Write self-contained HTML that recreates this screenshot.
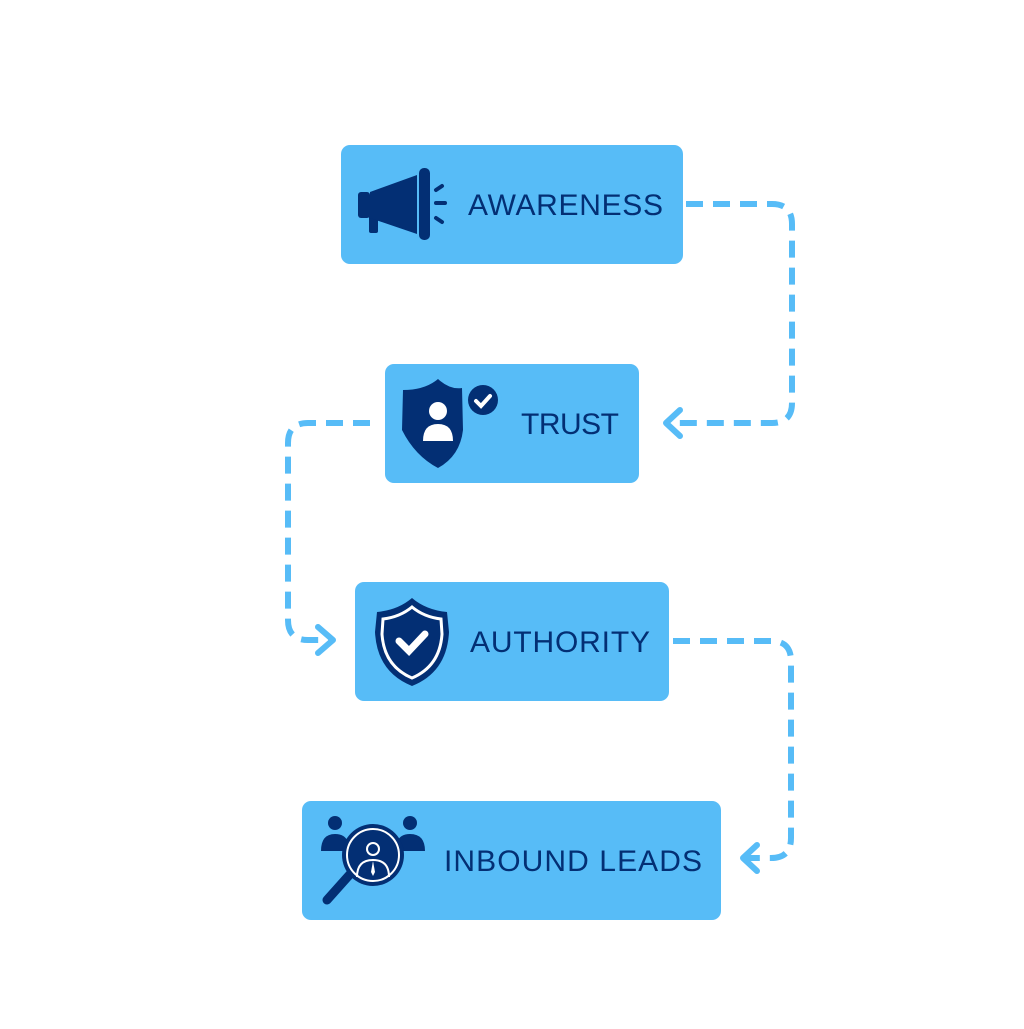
<!DOCTYPE html>
<html><head><style>
body{margin:0;background:#fff;width:1024px;height:1024px;overflow:hidden;font-family:"Liberation Sans",sans-serif;}
</style></head><body>
<svg width="1024" height="1024" viewBox="0 0 1024 1024" xmlns="http://www.w3.org/2000/svg">
<g fill="#57bcf7">
<rect x="341" y="145" width="342" height="119" rx="9"/>
<rect x="385" y="364" width="254" height="119" rx="9"/>
<rect x="355" y="582" width="314" height="119" rx="9"/>
<rect x="302" y="801" width="419" height="119" rx="9"/>
</g>
<g fill="none" stroke="#57bcf7" stroke-width="6" stroke-dasharray="17,10">
<path d="M686 204 H772 Q792 204 792 224 V403 Q792 423 772 423 H670"/>
<path d="M370 423 H308 Q288 423 288 443 V620 Q288 640 308 640 H332"/>
<path d="M673 641 H771 Q791 641 791 661 V838 Q791 858 771 858 H747"/>
</g>
<g fill="none" stroke="#57bcf7" stroke-width="6" stroke-linecap="round" stroke-linejoin="round">
<path d="M680 410 L666 423 L680 436"/>
<path d="M318 627 L333 640 L318 653"/>
<path d="M757 845 L743 858 L757 871"/>
</g>
<g fill="#032f74" font-family="Liberation Sans, sans-serif" font-size="30">
<text x="468" y="215" textLength="195" lengthAdjust="spacing">AWARENESS</text>
<text x="521" y="434" textLength="98" lengthAdjust="spacing">TRUST</text>
<text x="470" y="652" textLength="180" lengthAdjust="spacing">AUTHORITY</text>
<text x="444" y="871" textLength="258" lengthAdjust="spacing">INBOUND LEADS</text>
</g>
<g fill="#032f74">
<rect x="358" y="192" width="12" height="26" rx="3"/>
<rect x="369" y="215" width="9" height="18" rx="2"/>
<path d="M370 192 L417 175 L417 234 L370 218 Z"/>
<rect x="419" y="168" width="11" height="72" rx="5"/>
<g stroke="#032f74" stroke-width="4" stroke-linecap="round">
<line x1="436" y1="190" x2="442" y2="186"/><line x1="436" y1="203" x2="445" y2="203"/><line x1="436" y1="218" x2="442" y2="222"/>
</g>
</g>
<g>
<path d="M438 379 Q450 390 462 388 L463 430 Q460 456 438 468 Q415 456 402 430 L403 390 Q425 390 438 379 Z" fill="#032f74"/>
<circle cx="483" cy="400" r="19" fill="#57bcf7"/>
<circle cx="483" cy="400" r="15" fill="#032f74"/>
<path d="M476 401 L481 406 L490 396" stroke="#fff" stroke-width="4" fill="none" stroke-linecap="round"/>
<circle cx="438" cy="411" r="9" fill="#fff"/>
<path d="M423 441 Q423 424 438 424 Q453 424 453 441 Z" fill="#fff"/>
</g>
<g>
<path d="M412 598 Q426 610 447 612 L449 632 Q447 672 412 686 Q377 672 375 632 L377 612 Q398 610 412 598 Z" fill="#032f74"/>
<path d="M412 607 Q424 617 441 619 L442 634 Q440 666 412 678 Q384 666 382 634 L383 619 Q400 617 412 607 Z" fill="none" stroke="#fff" stroke-width="3"/>
<path d="M399 641 L409 651 L425 634" stroke="#fff" stroke-width="7" fill="none" stroke-linecap="round"/>
</g>
<g>
<circle cx="335" cy="823" r="7" fill="#032f74"/>
<path d="M321 851 Q321 834 335 834 Q345 834 348 842 L344 851 Z" fill="#032f74"/>
<circle cx="410" cy="823" r="7" fill="#032f74"/>
<path d="M425 851 Q425 834 410 834 Q400 834 397 842 L401 851 Z" fill="#032f74"/>
<line x1="327" y1="900" x2="352" y2="872" stroke="#032f74" stroke-width="9" stroke-linecap="round"/>
<circle cx="373" cy="855" r="31" fill="#032f74"/>
<circle cx="373" cy="855" r="26" fill="none" stroke="#fff" stroke-width="2"/>
<circle cx="373" cy="849" r="6" fill="none" stroke="#fff" stroke-width="2"/>
<path d="M357 877 Q357 860 373 860 Q389 860 389 877" fill="none" stroke="#fff" stroke-width="2"/>
<path d="M373 861 L371 872 L373 876 L375 872 Z" fill="#fff"/>
</g>
</svg>
</body></html>
